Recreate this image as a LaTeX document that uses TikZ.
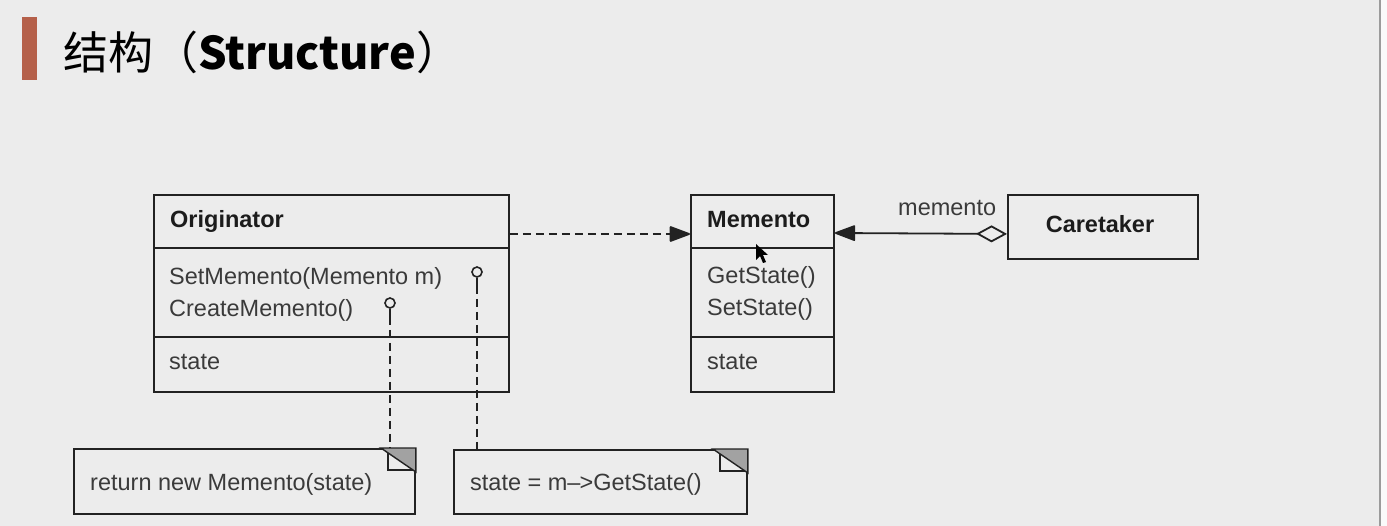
\documentclass[tikz,border=0pt]{standalone}
\usepackage{fontspec}
\setmainfont{Liberation Sans}
\newfontfamily\cjkfont{Noto Sans CJK SC}
\usetikzlibrary{arrows.meta,calc}
\definecolor{bg}{HTML}{ECECEC}
\definecolor{edgec}{HTML}{FAFAFA}
\definecolor{edgeline}{HTML}{9B9B9B}
\definecolor{lc}{HTML}{222222}
\definecolor{tc}{HTML}{3A3A3A}
\definecolor{bc}{HTML}{1C1C1C}
\definecolor{barc}{HTML}{B5604A}
\definecolor{foldc}{HTML}{A2A2A2}
\begin{document}
\begin{tikzpicture}[x=1pt,y=-1pt,
  box/.style={draw=lc, line width=1.9pt, rectangle, inner sep=0pt, anchor=north west},
  lbl/.style={anchor=base west, inner sep=0pt, font=\fontsize{23.5}{23.5}\selectfont, text=tc},
  blbl/.style={anchor=base west, inner sep=0pt, font=\fontsize{23.5}{23.5}\selectfont\bfseries, text=bc},
  divider/.style={draw=lc, line width=1.9pt},
  dep/.style={draw=lc, line width=1.8pt, dash pattern=on 8pt off 5pt},
  lolly/.style={circle, draw=lc, line width=1.6pt, fill=bg, minimum size=10pt, inner sep=0pt},
  stem/.style={draw=lc, line width=1.7pt},
  fold/.style={fill=foldc, draw=lc, line width=1.4pt},
  flap/.style={draw=lc, line width=1.4pt},
  headtip/.style={Triangle[length=22pt, width=16pt, round]}
]
\useasboundingbox (0,0) rectangle (1387,526);
\fill[bg] (0,0) rectangle (1387,526);
\fill[edgec] (1381,0) rectangle (1387,526);
\fill[edgeline] (1379,0) rectangle (1381,526);

% title
\fill[barc] (22,17) rectangle (37,80);
\node[anchor=base west, inner sep=0pt, font=\cjkfont\fontsize{45}{45}\selectfont, text=black] (title) at (63,70) {结构（\textbf{Structure}）};

% Originator
\node[box, minimum width=355pt, minimum height=197pt] (orig) at (153,194) {};
\draw[divider] (orig.west |- 0,248) -- (orig.east |- 0,248);
\draw[divider] (orig.west |- 0,337) -- (orig.east |- 0,337);
\node[blbl] (origname) at (170,228) {Originator};
\node[lbl] (setm) at (169,285) {SetMemento(Memento m)};
\node[lbl] (crem) at (169,317) {CreateMemento()};
\node[lbl] (ostate) at (169,370) {state};

% Memento
\node[box, minimum width=143pt, minimum height=197pt] (mem) at (690,194) {};
\draw[divider] (mem.west |- 0,248) -- (mem.east |- 0,248);
\draw[divider] (mem.west |- 0,337) -- (mem.east |- 0,337);
\node[blbl] (memname) at (707,228) {Memento};
\node[lbl] (gets) at (707,284) {GetState()};
\node[lbl] (sets) at (707,316) {SetState()};
\node[lbl] (mstate) at (707,370) {state};

% Caretaker
\node[box, minimum width=190pt, minimum height=64pt] (care) at (1007,194) {};
\node[blbl, anchor=base] (carename) at (1100,233) {Caretaker};

% notes
\node[box, minimum width=341pt, minimum height=65pt] (note1) at (73,448) {};
\node[lbl] (note1txt) at (90,490) {return new Memento(state)};
\node[box, minimum width=293pt, minimum height=64pt] (note2) at (453,449) {};
\node[lbl] (note2txt) at (470,490) {state = m--\hspace{-1pt}>GetState()};

\foreach \n in {note1,note2}{
  \path[fold] ($(\n.north east)+(-35,0)$) -- (\n.north east) -- ($(\n.north east)+(0,24)$) -- cycle;
  \draw[flap] ($(\n.north east)+(-28,5)$) -- ($(\n.north east)+(-28,22)$) -- ($(\n.north east)+(-3,22)$);
}

% lollipops
\node[lolly] (lp2) at (477,272) {};
\node[lolly] (lp1) at (390,303) {};
\coordinate (s2) at (477,286);
\coordinate (s1) at (390,317);
\draw[stem] (lp2.south) -- (s2);
\draw[stem] (lp1.south) -- (s1);
\draw[dep] (s2) -- (note2.north -| s2);
\draw[dep] (s1) -- (note1.north -| s1);

% dependency Originator -> Memento
\draw[dep, -{Triangle[length=22pt, width=16pt, round]}] ([yshift=-40pt]orig.north east) -- ([yshift=-40pt]mem.north west);

% association Caretaker -> Memento
\draw[draw=lc, line width=1.8pt, {Diamond[open, length=31pt, width=17pt, fill=bg]}-{Triangle[length=22pt, width=16pt, round]}] ([yshift=-7pt]care.west) -- ([yshift=-39pt]mem.north east);
\node[lbl] (rolelbl) at (898,216) {memento};

% mouse pointer
\fill[black] (756,244) -- (756,260) -- (760,256) -- (763,263) -- (766,262) -- (763,255) -- (768,255) -- cycle;
\end{tikzpicture}
\end{document}
